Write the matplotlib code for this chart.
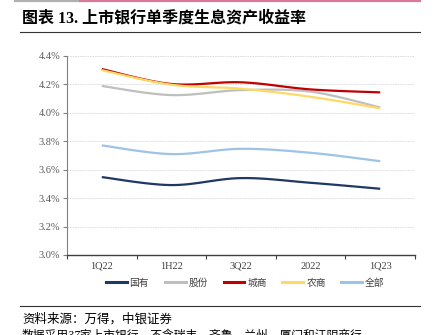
import numpy as np
import matplotlib.pyplot as plt
from matplotlib.lines import Line2D

plt.rcParams['font.family'] = ['Liberation Serif', 'Noto Sans CJK SC']

# 数据
quarters = ["1Q22", "1H22", "3Q22", "2022", "1Q23"]
guoyou = [3.548, 3.492, 3.541, 3.508, 3.466]
gufen = [4.189, 4.125, 4.160, 4.149, 4.038]
chengshang = [4.308, 4.203, 4.215, 4.165, 4.144]
nongshang = [4.300, 4.198, 4.170, 4.113, 4.032]
quanbu = [3.771, 3.710, 3.747, 3.719, 3.660]

names = ["国有", "股份", "城商", "农商", "全部"]
colors = ["#1F3864", "#BFBFBF", "#C00000", "#FFD966", "#9DC3E6"]
series = [guoyou, gufen, chengshang, nongshang, quanbu]


def smooth(ys, n=30):
    # 平滑曲线 (类似 Excel 的贝塞尔平滑)
    xs = np.arange(len(ys), dtype=float)
    ys = np.asarray(ys, dtype=float)
    px = np.concatenate([[xs[0]], xs, [xs[-1]]])
    py = np.concatenate([[ys[0]], ys, [ys[-1]]])
    ox, oy = [], []
    t = np.linspace(0, 1, n)
    for i in range(1, len(px) - 2):
        p0 = np.array([px[i], py[i]])
        p3 = np.array([px[i + 1], py[i + 1]])
        c1 = p0 + (np.array([px[i + 1], py[i + 1]]) - np.array([px[i - 1], py[i - 1]])) / 6
        c2 = p3 - (np.array([px[i + 2], py[i + 2]]) - np.array([px[i], py[i]])) / 6
        b = ((1 - t) ** 3)[:, None] * p0 + (3 * (1 - t) ** 2 * t)[:, None] * c1 \
            + (3 * (1 - t) * t ** 2)[:, None] * c2 + (t ** 3)[:, None] * p3
        ox.extend(b[:, 0]); oy.extend(b[:, 1])
    return np.array(ox), np.array(oy)


fig = plt.figure(figsize=(4.34, 3.35), dpi=100)
ax = fig.add_axes([67 / 434, 1 - 255 / 335, (415 - 67) / 434, (255 - 56) / 335])

for ys, c in zip(series, colors):
    sx, sy = smooth(ys)
    ax.plot(sx, sy, color=c, lw=1.6, solid_capstyle='butt')

ax.set_xlim(-0.5, 4.5)
ax.set_ylim(3.0, 4.4)
yt = np.arange(3.0, 4.41, 0.2)
ax.set_yticks(yt)
ax.set_yticklabels([f"{v:.1f}%" for v in yt], fontsize=7.5, color="#595959")
ax.set_xticks(range(5))
ax.set_xticklabels(quarters, fontsize=7.5, color="#404040")
ax.set_xticks(np.arange(-0.5, 5, 1), minor=True)
ax.tick_params(axis='x', which='major', length=0, pad=5)
ax.tick_params(axis='x', which='minor', length=3, width=0.8, color="#404040", direction='out')
ax.tick_params(axis='y', length=3, width=0.8, color="#808080", pad=2)
ax.grid(axis='y', color="#D9D9D9", lw=0.6, ls=(0, (2, 1)))
ax.set_axisbelow(True)
for s in ["top", "right"]:
    ax.spines[s].set_visible(False)
ax.spines["left"].set_color("#808080")
ax.spines["bottom"].set_color("#404040")
ax.spines["bottom"].set_linewidth(1.0)

# 图例
handles = [Line2D([], [], color=c, lw=2.2) for c in colors]
fig.legend(handles, names, loc='center', bbox_to_anchor=(0.565, 1 - 283 / 335), ncol=5,
           frameon=False, fontsize=7, handlelength=2.15, handletextpad=0.3, columnspacing=1.6,
           labelcolor="#404040")

# 标题与线条
fig.add_artist(Line2D([15 / 434, 80 / 434], [1 - 0.8 / 335] * 2, color="#B0B0B0", lw=1.6))
fig.add_artist(Line2D([80 / 434, 420 / 434], [1 - 0.8 / 335] * 2, color="#D9799A", lw=1.6))
fig.text(22 / 434, 1 - 18 / 335, "图表 13. 上市银行单季度生息资产收益率", fontsize=11.5,
         fontweight='bold', va='center', ha='left', color="#000000")
fig.add_artist(Line2D([20 / 434, 420 / 434], [1 - 32 / 335] * 2, color="#333333", lw=0.8))
fig.add_artist(Line2D([20 / 434, 420 / 434], [1 - 306 / 335] * 2, color="#333333", lw=0.8))
fig.text(22 / 434, 1 - 319 / 335, "资料来源：万得，中银证券", fontsize=9, style='italic',
         va='center', ha='left')
fig.text(22 / 434, 1 - 336 / 335, "数据采用37家上市银行，不含瑞丰、齐鲁、兰州、厦门和江阴商行", fontsize=8.5,
         style='italic', va='center', ha='left')

fig.savefig("out.png", dpi=100)
